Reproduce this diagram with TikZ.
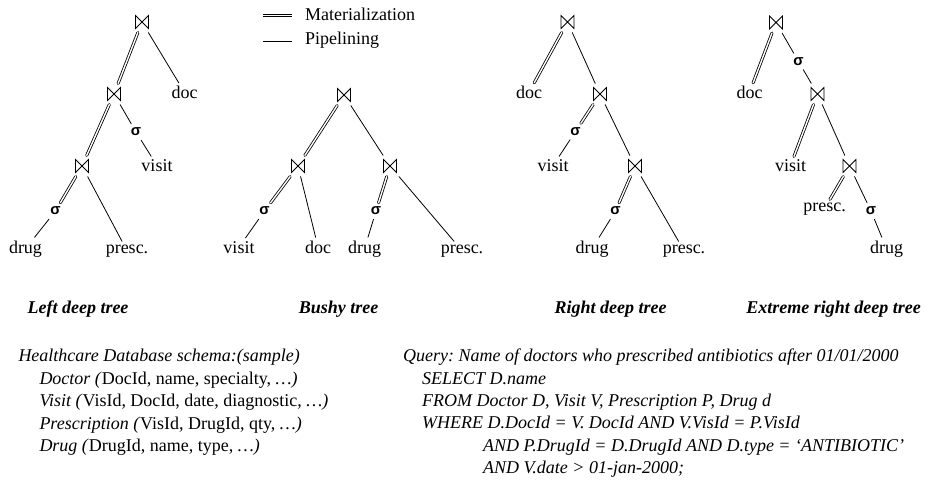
\documentclass[tikz,border=0pt]{standalone}
\usepackage{fontspec}
\setmainfont{Liberation Serif}
\newfontfamily\sigmafont{Liberation Sans}
\newcommand{\joinop}{\tikz[x=1pt,y=1pt,line width=0.8pt,line join=miter] \draw (0,0) -- (13,13) -- (13,0) -- (0,13) -- cycle;}
\newcommand{\selop}{{\sigmafont\bfseries σ}}
\frenchspacing
\begin{document}
\begin{tikzpicture}[x=1pt,y=-1pt,line cap=round,line join=round,
        every node/.style={font=\fontsize{18}{21.6}\selectfont,inner sep=3pt},
        op/.style={inner sep=3.5pt},
        sel/.style={font=\fontsize{15}{15}\selectfont,inner sep=4pt},
        rel/.style={anchor=base},
        treename/.style={anchor=base,font=\fontsize{18}{21.6}\selectfont\bfseries\itshape},
        txt/.style={anchor=base west,inner sep=0pt},
        mat/.style={double,double distance=1.4pt,line width=0.8pt},
        pip/.style={line width=0.8pt}]
        \useasboundingbox (0,0) rectangle (945,480);

        % legend
        \coordinate (m1) at (263,15.5);
        \coordinate (m2) at (292,15.5);
        \coordinate (p1) at (263,41.5);
        \coordinate (p2) at (292,41.5);
        \draw[mat,line cap=butt] (m1) -- (m2);
        \draw[pip,line cap=butt] (p1) -- (p2);
        \node[txt] (mtext) at (305,20) {Materialization};
        \node[txt] (ptext) at (305,44) {Pipelining};

        % left deep tree
        \node[op] (la) at (142,22) {\joinop};
        \node[op] (lb) at (114,94) {\joinop};
        \node[op] (lc) at (82,166) {\joinop};
        \node[sel] (ls1) at (136,132) {\selop};
        \node[sel] (ls2) at (55.5,211) {\selop};
        \node[rel] (ldoc) at (184.5,98.5) {doc};
        \node[rel] (lvisit) at (157,171.5) {visit};
        \node[rel] (ldrug) at (25.5,253) {drug};
        \node[rel] (lpresc) at (127,253) {presc.};
        \draw[mat] (la) -- (lb);
        \draw[pip] (la) -- (ldoc);
        \draw[mat] (lb) -- (lc);
        \draw[pip] (lb) -- (ls1);
        \draw[pip] (ls1) -- (lvisit);
        \draw[mat] (lc) -- (ls2);
        \draw[pip] (lc) -- (lpresc);
        \draw[pip] (ls2) -- (ldrug);

        % bushy tree
        \node[op] (ba) at (344,95) {\joinop};
        \node[op] (bb) at (298,166) {\joinop};
        \node[op] (bc) at (390,166) {\joinop};
        \node[sel] (bs1) at (264.5,211) {\selop};
        \node[sel] (bs2) at (376,211) {\selop};
        \node[rel] (bvisit) at (239,253) {visit};
        \node[rel] (bdoc) at (318,253) {doc};
        \node[rel] (bdrug) at (364.5,253) {drug};
        \node[rel] (bpresc) at (462,253) {presc.};
        \draw[mat] (ba) -- (bb);
        \draw[pip] (ba) -- (bc);
        \draw[mat] (bb) -- (bs1);
        \draw[pip] (bb) -- (bdoc);
        \draw[pip] (bs1) -- (bvisit);
        \draw[mat] (bc) -- (bs2);
        \draw[pip] (bc) -- (bpresc);
        \draw[pip] (bs2) -- (bdrug);

        % right deep tree
        \node[op] (ra) at (567.5,22) {\joinop};
        \node[op] (rb) at (600,94) {\joinop};
        \node[op] (rc) at (635,166) {\joinop};
        \node[sel] (rs1) at (575.5,131.5) {\selop};
        \node[sel] (rs2) at (615.5,211) {\selop};
        \node[rel] (rdoc) at (529,98.5) {doc};
        \node[rel] (rvisit) at (553,171.5) {visit};
        \node[rel] (rdrug) at (592,253) {drug};
        \node[rel] (rpresc) at (684,253) {presc.};
        \draw[mat] (ra) -- (rdoc);
        \draw[pip] (ra) -- (rb);
        \draw[mat] (rb) -- (rs1);
        \draw[pip] (rs1) -- (rvisit);
        \draw[pip] (rb) -- (rc);
        \draw[mat] (rc) -- (rs2);
        \draw[pip] (rs2) -- (rdrug);
        \draw[pip] (rc) -- (rpresc);

        % extreme right deep tree
        \node[op] (ea) at (776,22.5) {\joinop};
        \node[op] (eb) at (817.5,94) {\joinop};
        \node[op] (ec) at (849.5,166) {\joinop};
        \node[sel] (es1) at (798.5,61.5) {\selop};
        \node[sel] (es2) at (871,211) {\selop};
        \node[rel] (edoc) at (749.5,98.5) {doc};
        \node[rel] (evisit) at (790.5,171.5) {visit};
        \node[rel] (epresc) at (824.5,211) {presc.};
        \node[rel] (edrug) at (886.5,253) {drug};
        \draw[mat] (ea) -- (edoc);
        \draw[pip] (ea) -- (es1);
        \draw[pip] (es1) -- (eb);
        \draw[mat] (eb) -- (evisit);
        \draw[pip] (eb) -- (ec);
        \draw[mat] (ec) -- (epresc);
        \draw[pip] (ec) -- (es2);
        \draw[pip] (es2) -- (edrug);

        \node[treename] (tleft) at (78,313) {Left deep tree};
        \node[treename] (tbushy) at (338.5,313) {Bushy tree};
        \node[treename] (tright) at (610.5,313) {Right deep tree};
        \node[treename] (textreme) at (833.5,313) {Extreme right deep tree};

        % schema
        \node[txt] (s0) at (18.3,361.7) {\itshape Healthcare Database schema:(sample)};
        \node[txt] (s1) at (39.3,384.2) {\textit{Doctor (}DocId, name, specialty, \textit{…)}};
        \node[txt] (s2) at (39.3,406.7) {\textit{Visit (}VisId, DocId, date, diagnostic, \textit{…)}};
        \node[txt] (s3) at (39.3,429.2) {\textit{Prescription (}VisId, DrugId, qty, \textit{…)}};
        \node[txt] (s4) at (39.3,451.7) {\textit{Drug (}DrugId, name, type, \textit{…)}};

        % query
        \node[txt] (q0) at (403,361.7) {\itshape Query: Name of doctors who prescribed antibiotics after 01/01/2000};
        \node[txt] (q1) at (422,384.1) {\itshape SELECT D.name};
        \node[txt] (q2) at (422,406.5) {\itshape FROM Doctor D, Visit V, Prescription P, Drug d};
        \node[txt] (q3) at (422,428.9) {\itshape WHERE D.DocId = V. DocId AND V.VisId = P.VisId};
        \node[txt] (q4) at (483,451.3) {\itshape AND P.DrugId = D.DrugId AND D.type = ‘ANTIBIOTIC’};
        \node[txt] (q5) at (483,473.7) {\itshape AND V.date > 01-jan-2000;};
      \end{tikzpicture}
\end{document}
